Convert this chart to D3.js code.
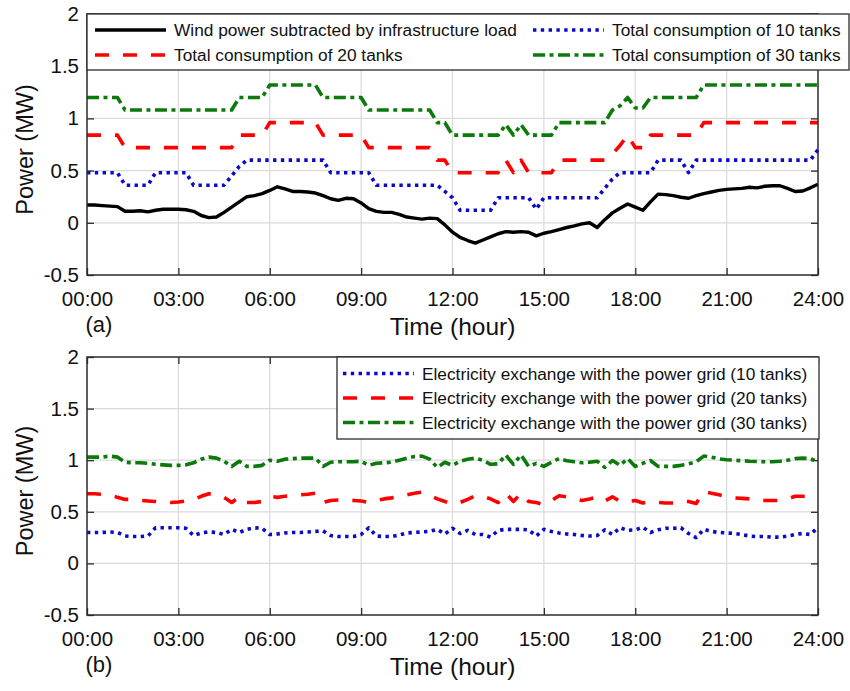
<!DOCTYPE html>
<html>
<head>
<meta charset="utf-8">
<script src="https://cdn.jsdelivr.net/npm/d3@7"></script>
<style>
	body { margin: 0; background: #fff; }
	svg { display: block; font-family: 'Liberation Sans', Arial, sans-serif; }
</style>
</head>
<body>
<svg id="chart"></svg>
<script>
const timeTicks = [0, 3, 6, 9, 12, 15, 18, 21, 24];
const timeTickLabels = ['00:00', '03:00', '06:00', '09:00', '12:00', '15:00', '18:00', '21:00', '24:00'];
const powerTicks = [-0.5, 0, 0.5, 1, 1.5, 2];
const powerTickLabels = ['-0.5', '0', '0.5', '1', '1.5', '2'];
const STEP_HOURS = 0.25;

// panel (a), one value every 15 minutes, 00:00 .. 24:00
const windMinusLoad = [
	0.17, 0.17, 0.165, 0.16, 0.155, 0.11, 0.11, 0.115, 0.105, 0.12, 0.13, 0.13,
	0.13, 0.125, 0.11, 0.07, 0.05, 0.055, 0.10, 0.15, 0.20, 0.25, 0.26, 0.28,
	0.31, 0.345, 0.325, 0.30, 0.30, 0.295, 0.285, 0.26, 0.23, 0.215, 0.235, 0.23,
	0.19, 0.135, 0.11, 0.10, 0.10, 0.08, 0.055, 0.045, 0.035, 0.045, 0.04, -0.02,
	-0.09, -0.14, -0.17, -0.195, -0.165, -0.135, -0.105, -0.085, -0.09, -0.085, -0.09, -0.125,
	-0.10, -0.085, -0.065, -0.045, -0.03, -0.01, 0.00, -0.045, 0.03, 0.095, 0.14, 0.18,
	0.15, 0.12, 0.20, 0.275, 0.27, 0.26, 0.245, 0.235, 0.26, 0.28, 0.295, 0.31,
	0.32, 0.325, 0.33, 0.34, 0.335, 0.35, 0.355, 0.355, 0.33, 0.30, 0.305, 0.335,
	0.37,
];
const consumption10 = [
	0.48, 0.48, 0.48, 0.48, 0.48, 0.36, 0.36, 0.36, 0.36, 0.48, 0.48, 0.48,
	0.48, 0.48, 0.36, 0.36, 0.36, 0.36, 0.36, 0.45, 0.54, 0.6, 0.6, 0.6,
	0.6, 0.6, 0.6, 0.6, 0.6, 0.6, 0.6, 0.6, 0.48, 0.48, 0.48, 0.48,
	0.48, 0.48, 0.36, 0.36, 0.36, 0.36, 0.36, 0.36, 0.36, 0.36, 0.36, 0.30,
	0.24, 0.12, 0.12, 0.12, 0.12, 0.12, 0.24, 0.24, 0.24, 0.24, 0.24, 0.13,
	0.24, 0.24, 0.24, 0.24, 0.24, 0.24, 0.24, 0.24, 0.33, 0.42, 0.48, 0.48,
	0.48, 0.48, 0.48, 0.6, 0.6, 0.6, 0.6, 0.48, 0.6, 0.6, 0.6, 0.6,
	0.6, 0.6, 0.6, 0.6, 0.6, 0.6, 0.6, 0.6, 0.6, 0.6, 0.6, 0.6,
	0.7,
];
const consumption20 = [
	0.84, 0.84, 0.84, 0.84, 0.84, 0.72, 0.72, 0.72, 0.72, 0.72, 0.72, 0.72,
	0.72, 0.72, 0.72, 0.72, 0.72, 0.72, 0.72, 0.72, 0.84, 0.84, 0.84, 0.84,
	0.96, 0.96, 0.96, 0.96, 0.96, 0.96, 0.96, 0.84, 0.84, 0.84, 0.84, 0.84,
	0.84, 0.72, 0.72, 0.72, 0.72, 0.72, 0.72, 0.72, 0.72, 0.72, 0.6, 0.6,
	0.48, 0.48, 0.48, 0.48, 0.48, 0.48, 0.48, 0.6, 0.48, 0.6, 0.48, 0.48,
	0.48, 0.48, 0.6, 0.6, 0.6, 0.6, 0.6, 0.6, 0.6, 0.66, 0.74, 0.84,
	0.72, 0.72, 0.84, 0.84, 0.84, 0.84, 0.84, 0.84, 0.84, 0.96, 0.96, 0.96,
	0.96, 0.96, 0.96, 0.96, 0.96, 0.96, 0.96, 0.96, 0.96, 0.96, 0.96, 0.96,
	0.96,
];
const consumption30 = [
	1.2, 1.2, 1.2, 1.2, 1.2, 1.08, 1.08, 1.08, 1.08, 1.08, 1.08, 1.08,
	1.08, 1.08, 1.08, 1.08, 1.08, 1.08, 1.08, 1.08, 1.2, 1.2, 1.2, 1.2,
	1.32, 1.32, 1.32, 1.32, 1.32, 1.32, 1.32, 1.2, 1.2, 1.2, 1.2, 1.2,
	1.2, 1.08, 1.08, 1.08, 1.08, 1.08, 1.08, 1.08, 1.08, 1.08, 0.96, 0.96,
	0.84, 0.84, 0.84, 0.84, 0.84, 0.84, 0.84, 0.94, 0.84, 0.94, 0.84, 0.84,
	0.84, 0.84, 0.96, 0.96, 0.96, 0.96, 0.96, 0.96, 0.96, 1.08, 1.12, 1.2,
	1.1, 1.1, 1.2, 1.2, 1.2, 1.2, 1.2, 1.2, 1.2, 1.32, 1.32, 1.32,
	1.32, 1.32, 1.32, 1.32, 1.32, 1.32, 1.32, 1.32, 1.32, 1.32, 1.32, 1.32,
	1.32,
];

// panel (b)
const gridExchange10 = [
	0.3, 0.3, 0.3, 0.305, 0.3, 0.265, 0.26, 0.26, 0.265, 0.345, 0.345, 0.345,
	0.345, 0.34, 0.27, 0.295, 0.305, 0.3, 0.28, 0.33, 0.3, 0.33, 0.345, 0.34,
	0.28, 0.285, 0.295, 0.3, 0.3, 0.305, 0.31, 0.315, 0.27, 0.26, 0.26, 0.26,
	0.28, 0.345, 0.265, 0.26, 0.26, 0.275, 0.295, 0.3, 0.305, 0.31, 0.33, 0.285,
	0.34, 0.29, 0.32, 0.28, 0.28, 0.255, 0.32, 0.33, 0.33, 0.33, 0.325, 0.265,
	0.33, 0.31, 0.295, 0.285, 0.28, 0.27, 0.265, 0.27, 0.325, 0.28, 0.345, 0.32,
	0.325, 0.35, 0.3, 0.325, 0.34, 0.34, 0.345, 0.29, 0.25, 0.33, 0.31, 0.3,
	0.295, 0.29, 0.28, 0.265, 0.26, 0.26, 0.255, 0.255, 0.265, 0.28, 0.29, 0.28,
	0.35,
];
const gridExchange20 = [
	0.675, 0.675, 0.67, 0.665, 0.64, 0.62, 0.62, 0.61, 0.605, 0.6, 0.595, 0.59,
	0.595, 0.605, 0.62, 0.65, 0.675, 0.665, 0.64, 0.59, 0.645, 0.59, 0.59, 0.6,
	0.65, 0.64, 0.65, 0.66, 0.665, 0.67, 0.68, 0.59, 0.61, 0.615, 0.615, 0.61,
	0.605, 0.59, 0.61, 0.625, 0.635, 0.65, 0.665, 0.68, 0.69, 0.66, 0.625, 0.6,
	0.575, 0.59, 0.62, 0.655, 0.65, 0.625, 0.59, 0.68, 0.6, 0.68, 0.6, 0.59,
	0.57, 0.61, 0.655, 0.645, 0.625, 0.61, 0.625, 0.645, 0.605, 0.645, 0.6, 0.6,
	0.61, 0.585, 0.6, 0.59, 0.585, 0.585, 0.6, 0.6, 0.58, 0.695, 0.68, 0.665,
	0.645, 0.635, 0.63, 0.625, 0.615, 0.61, 0.61, 0.61, 0.625, 0.65, 0.65, 0.645,
	0.645,
];
const gridExchange30 = [
	1.03, 1.03, 1.03, 1.04, 1.03, 0.98, 0.975, 0.975, 0.97, 0.96, 0.955, 0.95,
	0.95, 0.955, 0.975, 1.01, 1.03, 1.02, 0.99, 0.94, 0.99, 0.94, 0.94, 0.95,
	1.0, 0.99, 1.01, 1.015, 1.02, 1.02, 1.02, 0.94, 0.98, 0.985, 0.985, 0.985,
	0.99, 0.95, 0.97, 0.975, 0.98, 1.0, 1.02, 1.035, 1.04, 1.01, 0.93, 0.98,
	0.95, 0.99, 1.01, 1.02, 1.0, 0.96, 0.965, 1.05, 0.96, 1.05, 0.94, 0.97,
	0.94, 0.98, 1.016, 0.995, 0.985, 0.975, 0.98, 0.99, 0.93, 0.997, 0.95, 1.016,
	0.94, 0.97, 0.997, 0.94, 0.94, 0.94, 0.95, 0.965, 0.985, 1.04, 1.03, 1.013,
	1.005, 1.0, 0.995, 0.99, 0.988, 0.985, 0.985, 0.99, 1.0, 1.015, 1.02, 1.016,
	0.985,
];

const STYLES = {
	solid: { color: '#000000', dash: null, width: 3.4 },
	dotted: { color: '#0a0ac8', dash: '3.4,4.4', width: 3.6 },
	dashed: { color: '#ff0000', dash: '14,14', width: 3.6 },
	dashdot: { color: '#0b7a0b', dash: '12,4.5,4,4.5', width: 3.6 },
};

const panels = [
	{
		top: 14,
		bottom: 275,
		tag: '(a)',
		series: [
			{ name: 'Wind power subtracted by infrastructure load', values: windMinusLoad, style: 'solid' },
			{ name: 'Total consumption of 10 tanks', values: consumption10, style: 'dotted' },
			{ name: 'Total consumption of 20 tanks', values: consumption20, style: 'dashed' },
			{ name: 'Total consumption of 30 tanks', values: consumption30, style: 'dashdot' },
		],
		legend: {
			box: [87, 14, 849, 70],
			items: [[95, 30], [533, 30], [95, 55], [533, 55]],
		},
	},
	{
		top: 357,
		bottom: 615,
		tag: '(b)',
		series: [
			{ name: 'Electricity exchange with the power grid (10 tanks)', values: gridExchange10, style: 'dotted' },
			{ name: 'Electricity exchange with the power grid (20 tanks)', values: gridExchange20, style: 'dashed' },
			{ name: 'Electricity exchange with the power grid (30 tanks)', values: gridExchange30, style: 'dashdot' },
		],
		legend: {
			box: [337, 357, 819, 439],
			items: [[343, 373.5], [343, 398], [343, 422.5]],
		},
	},
];

const LEFT = 87;
const RIGHT = 818;
const FRAME = '#2b2b2b';

function drawPanel(svg, panel) {
	const x = d3.scaleLinear().domain([0, 24]).range([LEFT, RIGHT]);
	const y = d3.scaleLinear().domain([-0.5, 2]).range([panel.bottom, panel.top]);
	const g = svg.append('g');

	// grid
	g.selectAll('.vgrid')
		.data(timeTicks.slice(1, -1))
		.enter()
		.append('line')
		.attr('x1', d => x(d)).attr('x2', d => x(d))
		.attr('y1', panel.top).attr('y2', panel.bottom)
		.attr('stroke', '#dadada').attr('stroke-width', 1.2);
	g.selectAll('.hgrid')
		.data(powerTicks.slice(1, -1))
		.enter()
		.append('line')
		.attr('x1', LEFT).attr('x2', RIGHT)
		.attr('y1', d => y(d)).attr('y2', d => y(d))
		.attr('stroke', '#dadada').attr('stroke-width', 1.2);

	// axes with inward ticks on all four sides
	const tickLen = 7;
	g.append('g')
		.attr('transform', `translate(0,${panel.bottom})`)
		.call(d3.axisBottom(x).tickValues(timeTicks).tickSizeInner(-tickLen).tickSizeOuter(0)
			.tickPadding(16).tickFormat((d, i) => timeTickLabels[i]));
	g.append('g')
		.attr('transform', `translate(0,${panel.top})`)
		.call(d3.axisTop(x).tickValues(timeTicks).tickSizeInner(-tickLen).tickSizeOuter(0).tickFormat(''));
	g.append('g')
		.attr('transform', `translate(${LEFT},0)`)
		.call(d3.axisLeft(y).tickValues(powerTicks).tickSizeInner(-tickLen).tickSizeOuter(0)
			.tickPadding(8).tickFormat((d, i) => powerTickLabels[i]));
	g.append('g')
		.attr('transform', `translate(${RIGHT},0)`)
		.call(d3.axisRight(y).tickValues(powerTicks).tickSizeInner(-tickLen).tickSizeOuter(0).tickFormat(''));

	g.selectAll('.domain').remove();
	g.selectAll('.tick line').attr('stroke', FRAME).attr('stroke-width', 1.3);
	g.selectAll('.tick text')
		.attr('font-size', 20.5)
		.attr('font-family', "'Liberation Sans', Arial, sans-serif")
		.attr('fill', '#111');

	// series
	const line = d3.line()
		.x((d, i) => x(i * STEP_HOURS))
		.y(d => y(d));
	panel.series.forEach(s => {
		const st = STYLES[s.style];
		g.append('path')
			.datum(s.values)
			.attr('d', line)
			.attr('fill', 'none')
			.attr('stroke', st.color)
			.attr('stroke-width', st.width)
			.attr('stroke-dasharray', st.dash)
			.attr('stroke-linejoin', 'round');
	});

	// frame
	g.append('rect')
		.attr('x', LEFT).attr('y', panel.top)
		.attr('width', RIGHT - LEFT).attr('height', panel.bottom - panel.top)
		.attr('fill', 'none').attr('stroke', FRAME).attr('stroke-width', 1.5);

	drawLegend(g, panel);

	// labels
	g.append('text')
		.attr('x', (LEFT + RIGHT) / 2).attr('y', panel.bottom + 60)
		.attr('text-anchor', 'middle').attr('font-size', 24.5).attr('fill', '#111')
		.text('Time (hour)');
	g.append('text')
		.attr('x', 99).attr('y', panel.bottom + 57)
		.attr('text-anchor', 'middle').attr('font-size', 22).attr('fill', '#111')
		.text(panel.tag);
	g.append('text')
		.attr('transform', `translate(33,${(panel.top + panel.bottom) / 2 + 5}) rotate(-90)`)
		.attr('text-anchor', 'middle').attr('font-size', 23.5).attr('fill', '#111')
		.text('Power (MW)');
}

function drawLegend(g, panel) {
	const box = panel.legend.box;
	g.append('rect')
		.attr('x', box[0]).attr('y', box[1])
		.attr('width', box[2] - box[0]).attr('height', box[3] - box[1])
		.attr('fill', '#fff').attr('stroke', FRAME).attr('stroke-width', 1.3);
	panel.series.forEach((s, k) => {
		const st = STYLES[s.style];
		const pos = panel.legend.items[k];
		g.append('line')
			.attr('x1', pos[0]).attr('x2', pos[0] + 71)
			.attr('y1', pos[1]).attr('y2', pos[1])
			.attr('stroke', st.color)
			.attr('stroke-width', st.width)
			.attr('stroke-dasharray', st.dash);
		g.append('text')
			.attr('x', pos[0] + 79).attr('y', pos[1])
			.attr('dominant-baseline', 'central')
			.attr('font-size', 17.3).attr('fill', '#111')
			.text(s.name);
	});
}

function render() {
	const svg = d3.select('#chart')
		.attr('width', 850)
		.attr('height', 691);
	panels.forEach(p => drawPanel(svg, p));
}

document.addEventListener('DOMContentLoaded', () => {
	render();
});
</script>
</body>
</html>
